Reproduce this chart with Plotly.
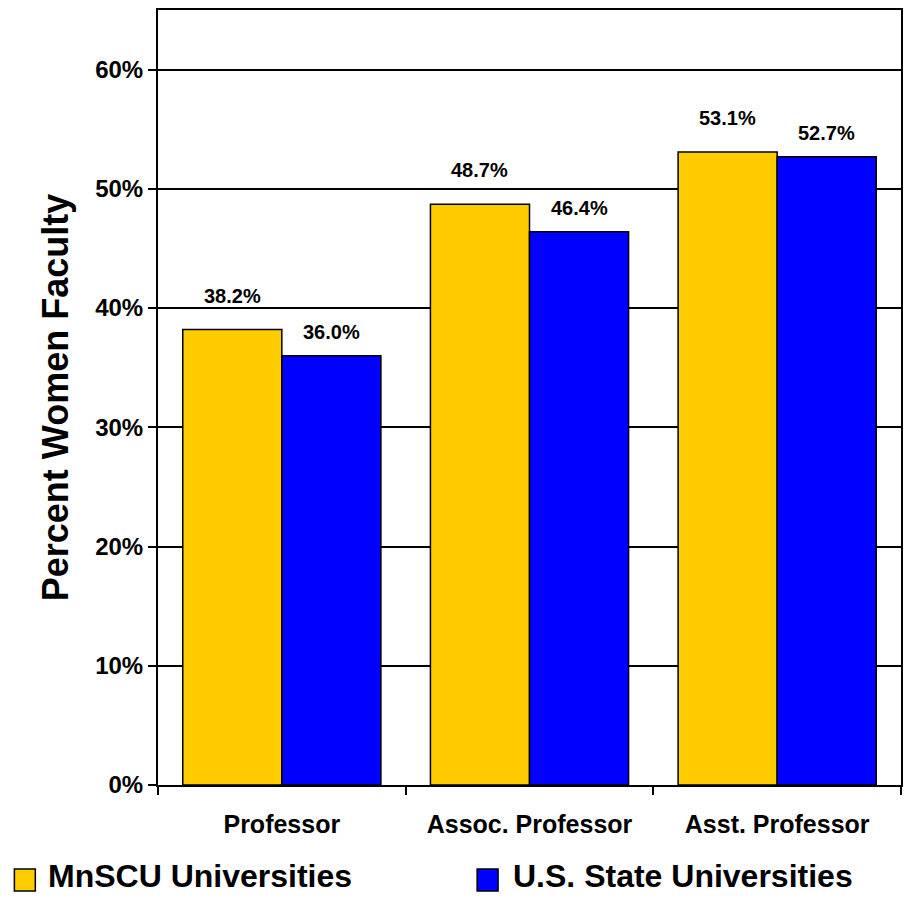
import plotly.graph_objects as go

categories = ["Professor", "Assoc. Professor", "Asst. Professor"]
series_names = ["MnSCU Universities", "U.S. State Universities"]
mnscu = [0.382, 0.487, 0.531]
us_state = [0.360, 0.464, 0.527]
colors = ["#FFCC00", "#0000FF"]
label_shift = [34, 24]

FONT = "Liberation Sans, Arial, sans-serif"

fig = go.Figure()
for name, vals, col in zip(series_names, [mnscu, us_state], colors):
    fig.add_trace(go.Bar(
        x=categories, y=vals, name=name, showlegend=False,
        marker=dict(color=col, line=dict(color="black", width=1.5)),
        offsetgroup=name,
    ))

annotations = []
# data labels
for si, (vals, shift) in enumerate(zip([mnscu, us_state], label_shift)):
    for ci, (cat, v) in enumerate(zip(categories, vals)):
        off = (-0.2 if si == 0 else 0.2)
        annotations.append(dict(
            x=ci + off, y=v, xref="x", yref="y",
            text=f"<b>{v*100:.1f}%</b>", showarrow=False,
            yshift=shift, yanchor="middle", xanchor="center",
            font=dict(family=FONT, size=20, color="black"),
        ))

# manual legend
W, H = 905, 897
ml, mr, mt, mb = 158, 2, 10, 112
pw, ph = W - ml - mr, H - mt - mb
def px_to_paper_x(px):
    return (px - ml) / pw
def px_to_paper_y(py):
    return (H - mb - py) / ph

legend_items = [(14, 46), (478, 512)]
shapes = []
for (sx, tx), name, col in zip(legend_items, series_names, colors):
    shapes.append(dict(
        type="rect", xref="paper", yref="paper",
        x0=px_to_paper_x(sx), x1=px_to_paper_x(sx + 21),
        y0=px_to_paper_y(891), y1=px_to_paper_y(869),
        fillcolor=col, line=dict(color="black", width=1.5),
    ))
    annotations.append(dict(
        x=px_to_paper_x(tx), y=px_to_paper_y(876), xref="paper", yref="paper",
        text=f"<b>{name}</b>", showarrow=False, xanchor="left", yanchor="middle",
        font=dict(family=FONT, size=32, color="black"),
    ))

fig.update_layout(
    width=W, height=H,
    margin=dict(l=ml, r=mr, t=mt, b=mb, pad=0),
    paper_bgcolor="white", plot_bgcolor="white",
    barmode="group", bargap=0.2, bargroupgap=0,
    font=dict(family=FONT, color="black"),
    annotations=annotations, shapes=shapes,
    showlegend=False,
)
fig.update_xaxes(
    type="category", showline=True, linecolor="black", linewidth=2, mirror=True,
    ticks="outside", ticklen=8, tickwidth=1.5, tickcolor="black",
    tickson="boundaries", showgrid=False,
    tickfont=dict(family=FONT, size=25, color="black", weight="bold"),
    ticklabelstandoff=16,
)
fig.update_yaxes(
    range=[0, 0.65], dtick=0.1, tick0=0, tickformat=".0%",
    showline=True, linecolor="black", linewidth=2, mirror=True,
    ticks="outside", ticklen=8, tickwidth=1.5, tickcolor="black",
    showgrid=True, gridcolor="black", gridwidth=1.5, zeroline=False,
    tickfont=dict(family=FONT, size=24, color="black", weight="bold"),
    title=dict(text="<b>Percent Women Faculty</b>", standoff=16,
               font=dict(family=FONT, size=36, color="black")),
)

fig.write_html("out.html")
